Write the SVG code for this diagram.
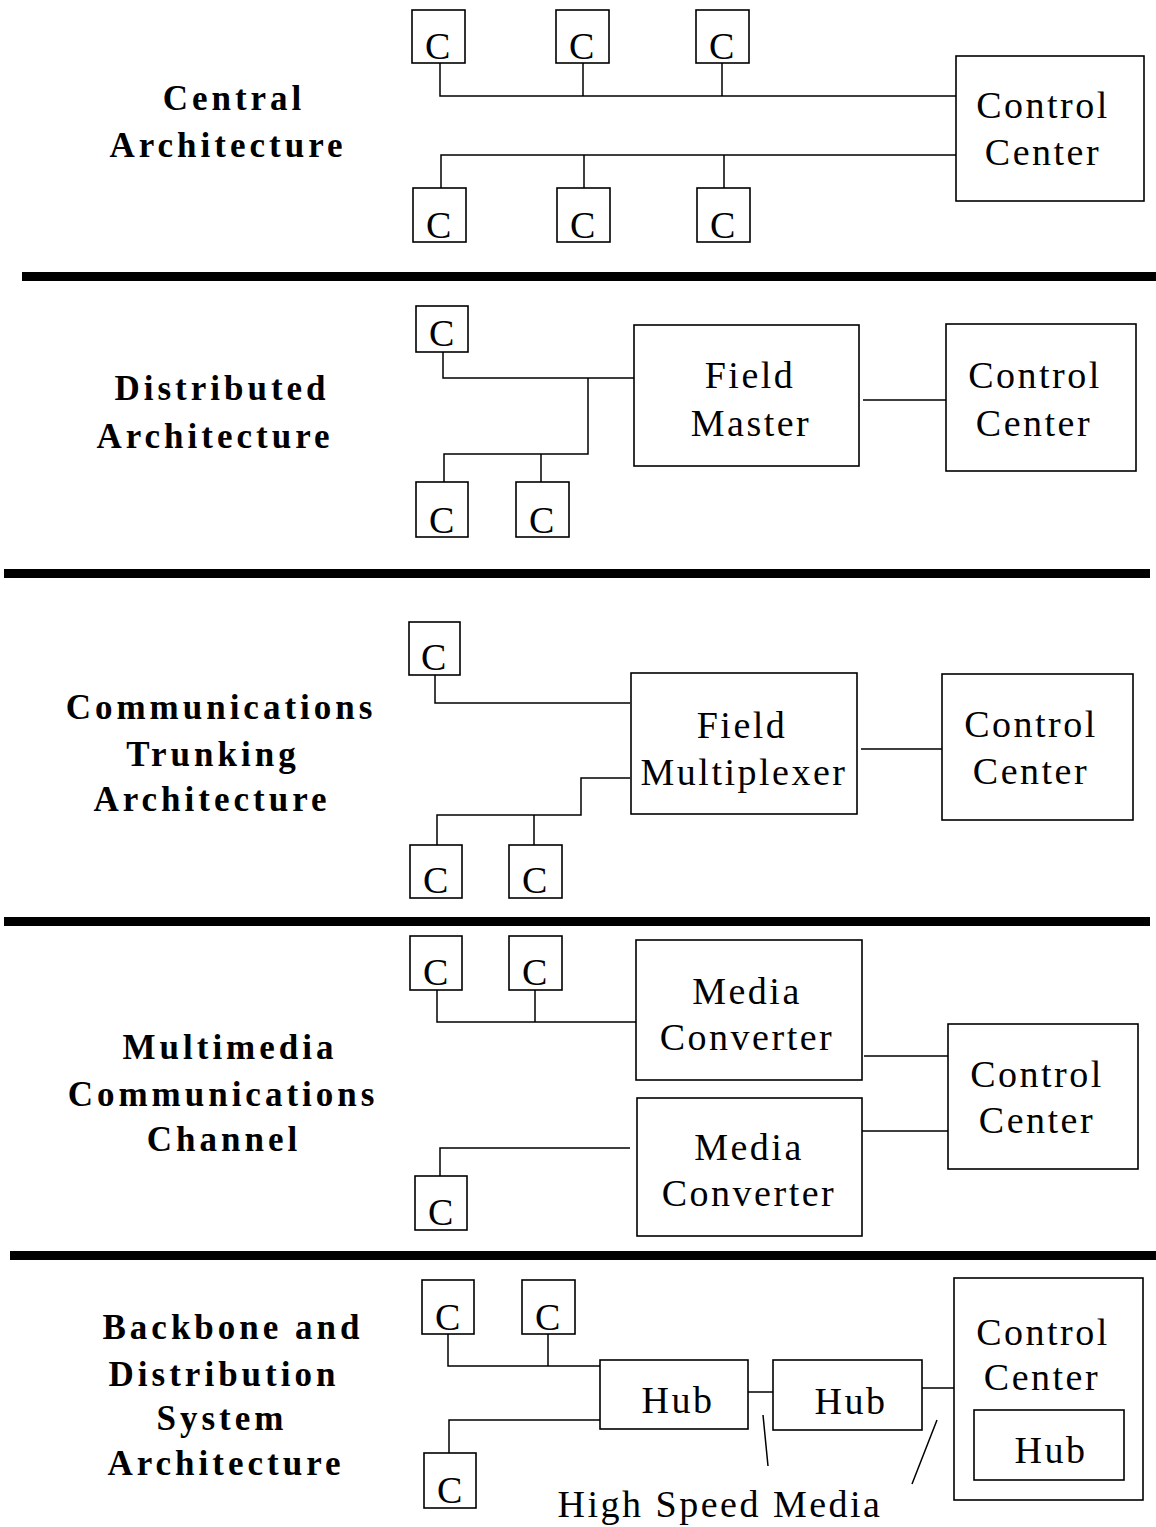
<svg xmlns="http://www.w3.org/2000/svg" width="1156" height="1527" viewBox="0 0 1156 1527">
<style>
.box{fill:none;stroke:#000;stroke-width:1.6}
.ln{fill:none;stroke:#000;stroke-width:1.5}
.bar{fill:#000}
.lbl{font-family:"Liberation Serif",serif;font-weight:bold;font-size:35px;letter-spacing:4px;text-anchor:middle}
.t{font-family:"Liberation Serif",serif;font-size:38px;letter-spacing:2.5px;text-anchor:middle}
</style>
<rect width="1156" height="1527" fill="#fff"/>
<g id="separators">
<rect class="bar" x="22" y="272" width="1134" height="9"/>
<rect class="bar" x="4" y="569" width="1146" height="9"/>
<rect class="bar" x="4" y="917" width="1146" height="9"/>
<rect class="bar" x="10" y="1251" width="1146" height="9"/>
</g>
<g id="labels">
<text class="lbl" x="234" y="110">Central</text>
<text class="lbl" x="228" y="157">Architecture</text>
<text class="lbl" x="222" y="400">Distributed</text>
<text class="lbl" x="215" y="448">Architecture</text>
<text class="lbl" x="221" y="719">Communications</text>
<text class="lbl" x="213" y="766">Trunking</text>
<text class="lbl" x="212" y="811">Architecture</text>
<text class="lbl" x="230" y="1059">Multimedia</text>
<text class="lbl" x="223" y="1106">Communications</text>
<text class="lbl" x="224" y="1151">Channel</text>
<text class="lbl" x="233" y="1339">Backbone and</text>
<text class="lbl" x="224" y="1386">Distribution</text>
<text class="lbl" x="222" y="1430">System</text>
<text class="lbl" x="226" y="1475">Architecture</text>
</g>
<g id="connectors">
<path class="ln" d="M440,63 V96 H956 M583,63 V96 M722,63 V96"/>
<path class="ln" d="M441,188 V155 H956 M584,155 V188 M724,155 V188"/>
<path class="ln" d="M443,352 V378 H634 M588,378 V454 H444 V482 M541,454 V482 M863,400 H946"/>
<path class="ln" d="M435,675 V703 H630 M630,778 H581 V815 H437 V845 M534,815 V845 M861,749 H942"/>
<path class="ln" d="M437,990 V1022 H636 M535,990 V1022 M864,1056 H948 M862,1131 H948 M630,1148 H440 V1176"/>
<path class="ln" d="M448,1334 V1366 H600 M548,1334 V1366 M600,1420 H449 V1453 M748,1392 H773 M922,1388 H954 M763,1415 L768,1466 M937,1420 L912,1484"/>
</g>
<g id="s1-c1"><rect class="box" x="412" y="10" width="53" height="53"/><text class="t" x="439" y="59">C</text></g>
<g id="s1-c2"><rect class="box" x="556" y="10" width="53" height="53"/><text class="t" x="583" y="59">C</text></g>
<g id="s1-c3"><rect class="box" x="696" y="10" width="53" height="53"/><text class="t" x="723" y="59">C</text></g>
<g id="s1-c4"><rect class="box" x="413" y="188" width="53" height="54"/><text class="t" x="440" y="238">C</text></g>
<g id="s1-c5"><rect class="box" x="557" y="188" width="53" height="54"/><text class="t" x="584" y="238">C</text></g>
<g id="s1-c6"><rect class="box" x="697" y="188" width="53" height="54"/><text class="t" x="724" y="238">C</text></g>
<g id="s1-cc"><rect class="box" x="956" y="56" width="188" height="145"/><text class="t" x="1043" y="118">Control</text><text class="t" x="1043" y="165">Center</text></g>

<g id="s2-c1"><rect class="box" x="416" y="306" width="52" height="46"/><text class="t" x="443" y="346">C</text></g>
<g id="s2-c2"><rect class="box" x="416" y="482" width="52" height="55"/><text class="t" x="443" y="533">C</text></g>
<g id="s2-c3"><rect class="box" x="516" y="482" width="53" height="55"/><text class="t" x="543" y="533">C</text></g>
<g id="s2-fm"><rect class="box" x="634" y="325" width="225" height="141"/><text class="t" x="750" y="388">Field</text><text class="t" x="751" y="436">Master</text></g>
<g id="s2-cc"><rect class="box" x="946" y="324" width="190" height="147"/><text class="t" x="1035" y="388">Control</text><text class="t" x="1034" y="436">Center</text></g>

<g id="s3-c1"><rect class="box" x="409" y="622" width="51" height="53"/><text class="t" x="435" y="670">C</text></g>
<g id="s3-c2"><rect class="box" x="410" y="845" width="52" height="53"/><text class="t" x="437" y="893">C</text></g>
<g id="s3-c3"><rect class="box" x="509" y="845" width="53" height="53"/><text class="t" x="536" y="893">C</text></g>
<g id="s3-fm"><rect class="box" x="631" y="673" width="226" height="141"/><text class="t" x="742" y="738">Field</text><text class="t" x="744" y="785">Multiplexer</text></g>
<g id="s3-cc"><rect class="box" x="942" y="674" width="191" height="146"/><text class="t" x="1031" y="737">Control</text><text class="t" x="1031" y="784">Center</text></g>

<g id="s4-c1"><rect class="box" x="410" y="936" width="52" height="54"/><text class="t" x="437" y="985">C</text></g>
<g id="s4-c2"><rect class="box" x="509" y="936" width="53" height="54"/><text class="t" x="536" y="985">C</text></g>
<g id="s4-c3"><rect class="box" x="415" y="1176" width="52" height="54"/><text class="t" x="442" y="1225">C</text></g>
<g id="s4-mc1"><rect class="box" x="636" y="940" width="226" height="140"/><text class="t" x="747" y="1004">Media</text><text class="t" x="747" y="1050">Converter</text></g>
<g id="s4-mc2"><rect class="box" x="637" y="1098" width="225" height="138"/><text class="t" x="749" y="1160">Media</text><text class="t" x="749" y="1206">Converter</text></g>
<g id="s4-cc"><rect class="box" x="948" y="1024" width="190" height="145"/><text class="t" x="1037" y="1087">Control</text><text class="t" x="1037" y="1133">Center</text></g>

<g id="s5-c1"><rect class="box" x="422" y="1280" width="52" height="54"/><text class="t" x="449" y="1330">C</text></g>
<g id="s5-c2"><rect class="box" x="522" y="1280" width="53" height="54"/><text class="t" x="549" y="1330">C</text></g>
<g id="s5-c3"><rect class="box" x="424" y="1453" width="52" height="55"/><text class="t" x="451" y="1503">C</text></g>
<g id="s5-hub1"><rect class="box" x="600" y="1360" width="148" height="69"/><text class="t" x="678" y="1413">Hub</text></g>
<g id="s5-hub2"><rect class="box" x="773" y="1360" width="149" height="70"/><text class="t" x="851" y="1414">Hub</text></g>
<g id="s5-cc"><rect class="box" x="954" y="1278" width="189" height="222"/><text class="t" x="1043" y="1345">Control</text><text class="t" x="1042" y="1390">Center</text>
<g id="s5-hub3"><rect class="box" x="974" y="1410" width="150" height="70"/><text class="t" x="1051" y="1463">Hub</text></g></g>
<g id="s5-hsm"><text class="t" x="720" y="1517">High Speed Media</text></g>
</svg>
